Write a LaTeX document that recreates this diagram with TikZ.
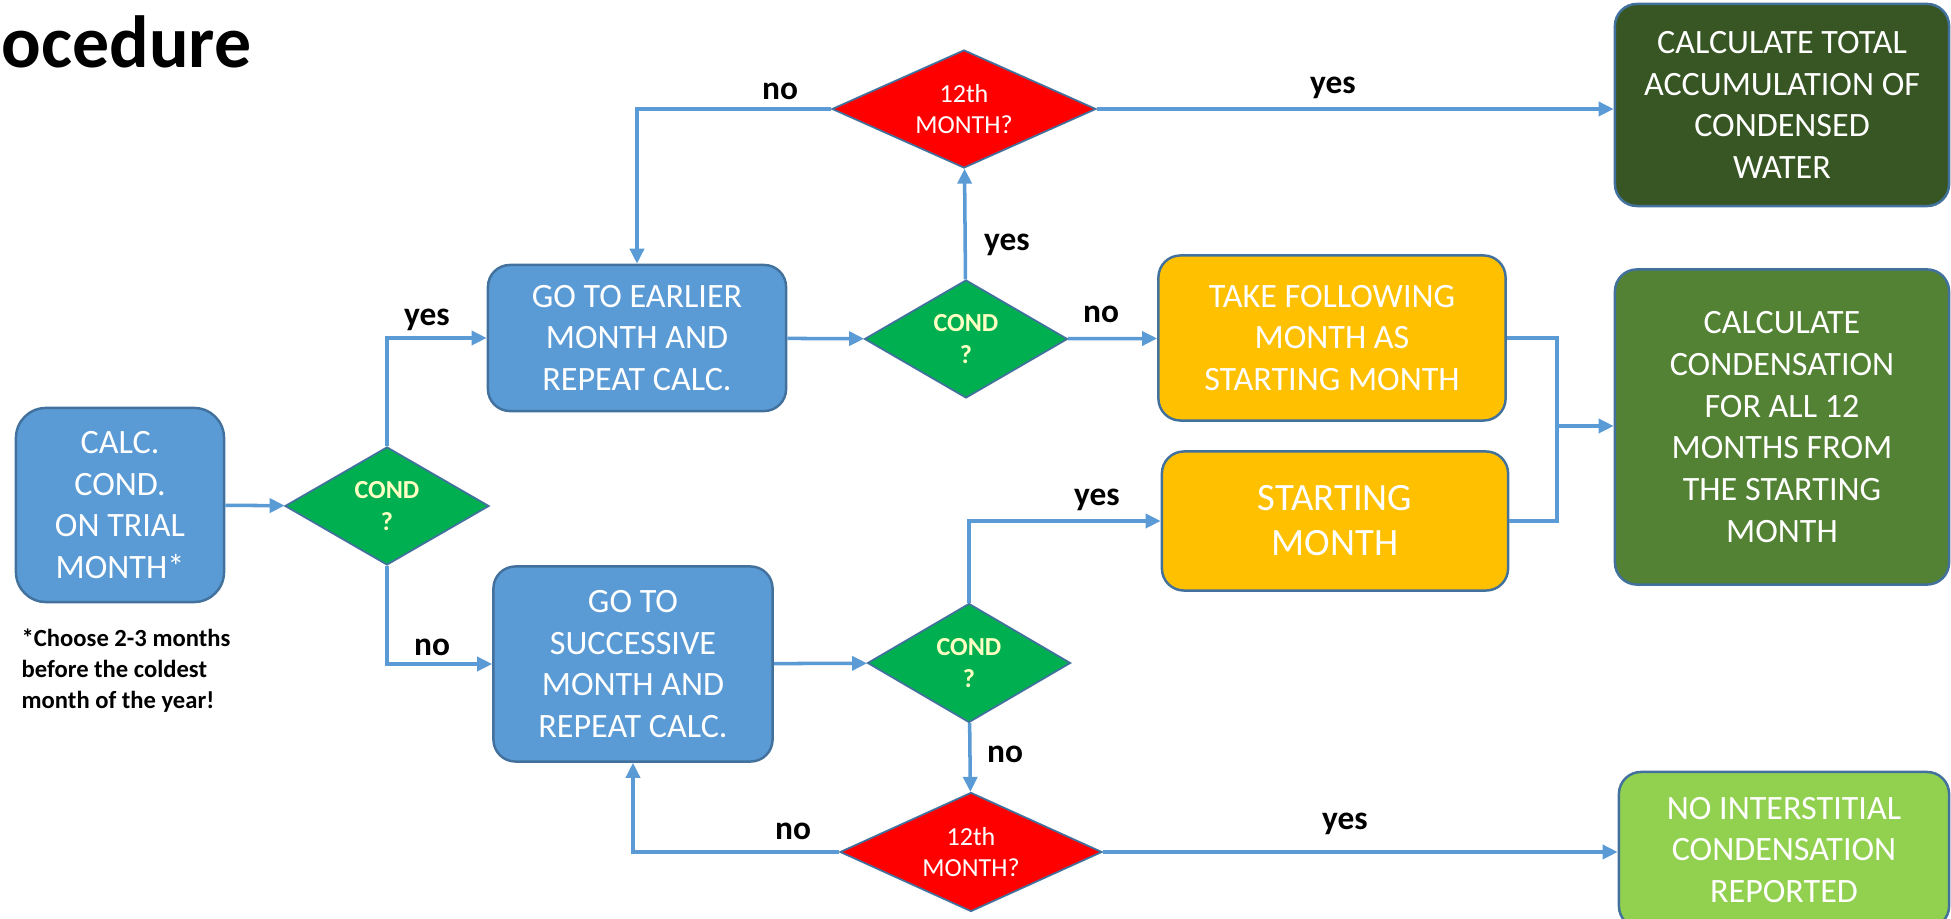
\documentclass[tikz,border=0pt]{standalone}
\usepackage{fontspec}
\setmainfont{Carlito}
\usepackage{tikz}
\usetikzlibrary{arrows.meta,positioning,shapes.geometric}
\definecolor{Ink}{HTML}{000000}
\definecolor{Flow}{HTML}{5B9BD5}
\definecolor{Edge}{HTML}{41719C}
\definecolor{Blue}{HTML}{5B9BD5}
\definecolor{Gold}{HTML}{FFC000}
\definecolor{Go}{HTML}{00B050}
\definecolor{Stop}{HTML}{FF0000}
\definecolor{DarkGreen}{HTML}{375623}
\definecolor{MidGreen}{HTML}{548235}
\definecolor{LightGreen}{HTML}{92D050}
\definecolor{Cream}{HTML}{FFFFC4}
\tikzset{
  box/.style={draw=Edge,line width=0.7pt,rounded corners=0.22cm,align=center,text=white,inner sep=2pt,font=\fontsize{9.7}{11.9}\selectfont},
  boxblue/.style={box,fill=Blue},
  boxgold/.style={box,fill=Gold},
  boxdark/.style={box,fill=DarkGreen},
  boxmid/.style={box,fill=MidGreen},
  boxlight/.style={box,fill=LightGreen},
  decision/.style={diamond,draw=Edge,line width=0.5pt,inner sep=0pt,aspect=1.7,align=center,font=\fontsize{7.4}{9}\selectfont},
  condgreen/.style={decision,fill=Go,text=Cream,font=\bfseries\fontsize{7.4}{9}\selectfont},
  monthred/.style={decision,fill=Stop,text=white},
  arrow/.style={-{Triangle[length=1.5mm,width=1.4mm]},line width=1pt,draw=Flow},
  link/.style={line width=1pt,draw=Flow},
  answer/.style={font=\bfseries\fontsize{9.5}{11}\selectfont,text=Ink,inner sep=0pt}
}

\begin{document}
\begin{tikzpicture}[x=0.01cm,y=-0.01cm]
  \useasboundingbox (0,0) rectangle (1951,919);
  \clip (0,0) rectangle (1951,919);
  \node[font=\bfseries\fontsize{21}{25}\selectfont,anchor=base west,inner sep=0pt] (title) at (1,68) {ocedure};

  \node[boxblue,rounded corners=0.3cm,minimum width=2.08cm,minimum height=1.94cm] (calc) at (120,505) {CALC.\\COND.\\ON TRIAL\\MONTH*};
  \node[anchor=north west,align=left,inner sep=0pt,font=\bfseries\fontsize{7}{8.8}\selectfont,text=Ink] (note) at (21,628)
    {*Choose 2-3 months\\before the coldest\\month of the year!};

  \node[condgreen,minimum width=2.04cm,minimum height=1.18cm] (condA) at (387,506) {COND\\?};
  \node[condgreen,minimum width=2.03cm,minimum height=1.18cm] (condB) at (966,339) {COND\\?};
  \node[condgreen,minimum width=2.03cm,minimum height=1.19cm] (condC) at (969,663) {COND\\?};
  \node[monthred,minimum width=2.64cm,minimum height=1.18cm] (monthA) at (964,109) {12th\\MONTH?};
  \node[monthred,minimum width=2.62cm,minimum height=1.19cm] (monthB) at (971,852) {12th\\MONTH?};

  \node[boxblue,minimum width=2.98cm,minimum height=1.46cm] (earlier) at (637,338) {GO TO EARLIER\\MONTH AND\\REPEAT CALC.};
  \node[boxblue,minimum width=2.79cm,minimum height=1.95cm] (successive) at (633,664) {GO TO\\SUCCESSIVE\\MONTH AND\\REPEAT CALC.};
  \node[boxgold,minimum width=3.47cm,minimum height=1.65cm] (follow) at (1332,338) {TAKE FOLLOWING\\MONTH AS\\STARTING MONTH};
  \node[boxgold,minimum width=3.46cm,minimum height=1.39cm,font=\fontsize{11}{12.8}\selectfont] (start) at (1335,521) {STARTING\\MONTH};
  \node[boxdark,minimum width=3.34cm,minimum height=2.02cm] (total) at (1782,105) {CALCULATE TOTAL\\ACCUMULATION OF\\CONDENSED\\WATER};
  \node[boxmid,minimum width=3.34cm,minimum height=3.15cm] (condens) at (1782,427) {CALCULATE\\CONDENSATION\\FOR ALL 12\\MONTHS FROM\\THE STARTING\\MONTH};
  \node[boxlight,minimum width=3.30cm,minimum height=1.56cm] (nointer) at (1784,850) {NO INTERSTITIAL\\CONDENSATION\\REPORTED};

  \draw[arrow] (calc) -- (condA);
  \draw[arrow] (condA.north) |- (earlier.west);
  \draw[arrow] (condA.south) |- (successive.west);
  \draw[arrow] (earlier) -- (condB);
  \draw[arrow] (condB) -- (monthA);
  \draw[arrow] (monthA.west) -| (earlier.north);
  \draw[arrow] (monthA.east) -- (monthA.east -| total.west);
  \draw[arrow] (condB) -- (follow);
  \draw[arrow] (successive) -- (condC);
  \draw[arrow] (condC.north) |- (start.west);
  \draw[arrow] (condC) -- (monthB);
  \draw[arrow] (monthB.west) -| (successive.south);
  \draw[arrow] (monthB.east) -- (monthB.east -| nointer.west);
  \coordinate (merge) at (1557,426);
  \draw[link] (follow.east) -| (merge) |- (start.east);
  \draw[arrow] (merge) -- (merge -| condens.west);

  \foreach \n/\t/\x/\y in {yesA/yes/427/320,noA/no/432/647,yesB/yes/1007/245,noB/no/1101/314,noTop/no/780/91,
      yesTop/yes/1333/88,yesC/yes/1097/500,noC/no/1005/754,noBot/no/793/831,yesBot/yes/1345/824}
    \node[answer] (\n) at (\x,\y) {\t};
\end{tikzpicture}
\end{document}
